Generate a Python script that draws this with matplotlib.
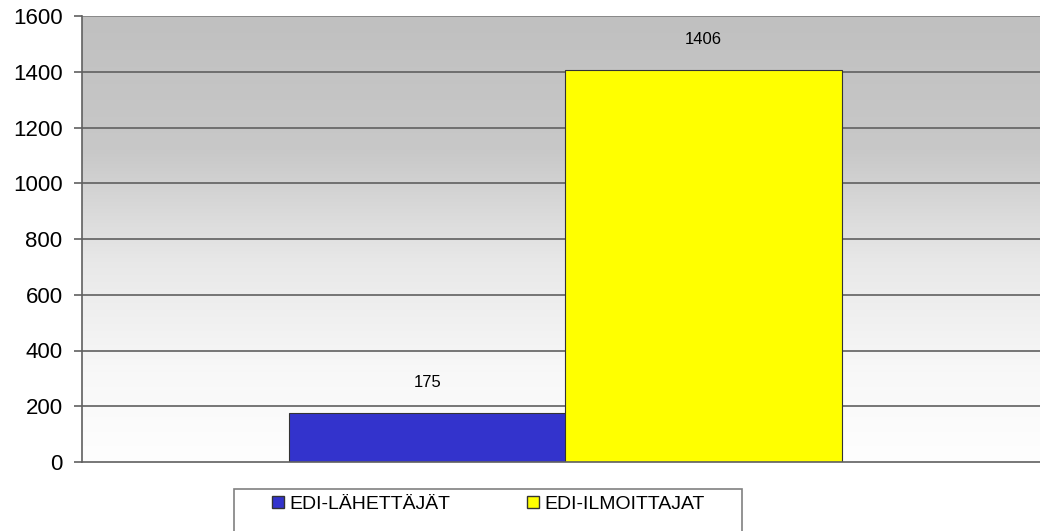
import matplotlib

matplotlib.use("Agg")

import matplotlib.pyplot as plt
import numpy as np
from matplotlib.patches import Rectangle
from matplotlib.lines import Line2D

series = ["EDI-LÄHETTÄJÄT", "EDI-ILMOITTAJAT"]
values = [175, 1406]
colors = ["#3333cc", "#ffff00"]
offsets = [-0.1394, 0.149]
yticks = [0, 200, 400, 600, 800, 1000, 1200, 1400, 1600]

plt.rcParams["font.family"] = ["Liberation Sans", "DejaVu Sans"]

fig = plt.figure(figsize=(10.4, 5.31), dpi=100)
ax = fig.add_axes([82 / 1040, 69 / 531, (1040 - 82) / 1040, (462 - 16) / 531])

# grey (top) to white (bottom) gradient background
t = np.linspace(0, 1, 256)
shade = np.interp(t, [0, 0.3, 0.55, 0.8, 1.0], [192, 200, 232, 248, 254]) / 255.0
grad = shade.reshape(-1, 1)
ax.imshow(np.dstack([grad, grad, grad]), extent=(-0.5, 0.5, 0, 1600),
          origin="upper", aspect="auto", zorder=0)

ax.set_xlim(-0.5, 0.5)
ax.set_ylim(0, 1600)

for v in yticks[1:]:
    col = "#808080" if v == 1600 else "#606060"
    ax.axhline(v, color=col, lw=1.2, zorder=1)

width = 0.289
for off, val, col in zip(offsets, values, colors):
    ax.bar(off, val, width=width, color=col, edgecolor="#333333", lw=0.8, zorder=2)
    ax.annotate(str(val), (off, val), xytext=(0, 22), textcoords="offset points",
                ha="center", va="center", fontsize=12)

ax.set_yticks(yticks)
ax.set_xticks([])
ax.tick_params(axis="y", labelsize=16, length=6, color="#606060", width=1.2, pad=8)
for side in ["top", "right"]:
    ax.spines[side].set_visible(False)
ax.spines["left"].set_color("#606060")
ax.spines["bottom"].set_color("#606060")
ax.spines["left"].set_linewidth(1.2)
ax.spines["bottom"].set_linewidth(1.2)

# legend box at the bottom, cut by the figure edge
fig.patches.append(Rectangle((234 / 1040, -0.05), 508 / 1040, 0.05 + (531 - 489) / 531,
                             transform=fig.transFigure, facecolor="white",
                             edgecolor="#808080", lw=1.2))
handles = [Line2D([], [], marker="s", linestyle="none", markersize=8,
                  markerfacecolor=c, markeredgecolor="#333333") for c in colors]
fig.legend(handles, series, loc="center left", bbox_to_anchor=(270 / 1040, 1 - 504 / 531),
           ncol=2, frameon=False, fontsize=14, handlelength=0.8, handletextpad=0.2,
           columnspacing=3.84, borderaxespad=0, borderpad=0)

fig.savefig("out.png", dpi=100)
